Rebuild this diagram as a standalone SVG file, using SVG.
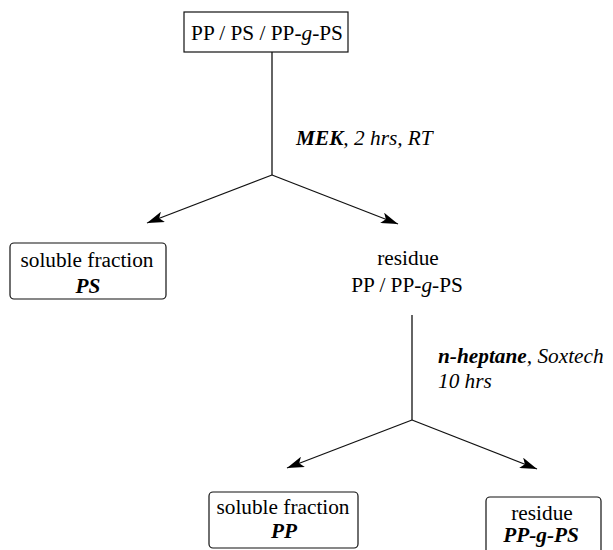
<svg xmlns="http://www.w3.org/2000/svg" width="613" height="550" viewBox="0 0 613 550" font-family="'Liberation Serif', 'DejaVu Serif', serif">
<style>
text{font-family:'Liberation Serif','Times New Roman','Tinos','Noto Serif','DejaVu Serif',serif;font-size:21.3px;fill:#000}
.c{text-anchor:middle}
.bi{font-weight:bold;font-style:italic}
.i{font-style:italic}
.box{fill:#fff;stroke:#111;stroke-width:1.2}
.ln{stroke:#111;stroke-width:1.3;fill:none}
</style>
<defs>
<marker id="ah" viewBox="0 0 17 11" refX="17" refY="5.5" markerWidth="17" markerHeight="11" markerUnits="userSpaceOnUse" orient="auto">
<path d="M0,0 L17,5.5 L0,11 L4,5.5 Z" fill="#000"/>
</marker>
</defs>
<g id="connectors">
<path class="ln" d="M272,52 V175"/>
<path class="ln" d="M272,175 L147,223" marker-end="url(#ah)"/>
<path class="ln" d="M272,175 L398,224" marker-end="url(#ah)"/>
<path class="ln" d="M412,315 V420"/>
<path class="ln" d="M412,420 L287,468" marker-end="url(#ah)"/>
<path class="ln" d="M412,420 L537,469" marker-end="url(#ah)"/>
</g>
<g id="start">
<rect class="box" x="184" y="12" width="164" height="40"/>
<text class="c" x="267" y="40">PP / PS / PP-<tspan class="i">g</tspan>-PS</text>
</g>
<g id="label1">
<text x="296" y="145"><tspan class="bi">MEK</tspan><tspan class="i">, 2 hrs, RT</tspan></text>
</g>
<g id="soluble1">
<rect class="box" x="10" y="243" width="156" height="56" rx="4"/>
<text class="c" x="87" y="267">soluble fraction</text>
<text class="c bi" x="88" y="293">PS</text>
</g>
<g id="residue1">
<text class="c" x="408" y="265">residue</text>
<text class="c" x="407" y="292">PP / PP-<tspan class="i">g</tspan>-PS</text>
</g>
<g id="label2">
<text x="438" y="363"><tspan class="bi">n-heptane</tspan><tspan class="i">, Soxtech</tspan></text>
<text class="i" x="438" y="388">10 hrs</text>
</g>
<g id="soluble2">
<rect class="box" x="209" y="492" width="149" height="56" rx="4"/>
<text class="c" x="283" y="514">soluble fraction</text>
<text class="c bi" x="284" y="538">PP</text>
</g>
<g id="residue2">
<rect class="box" x="486" y="497" width="115" height="60" rx="4"/>
<text class="c" x="542" y="520">residue</text>
<text class="c bi" x="541" y="542">PP-g-PS</text>
</g>
</svg>
